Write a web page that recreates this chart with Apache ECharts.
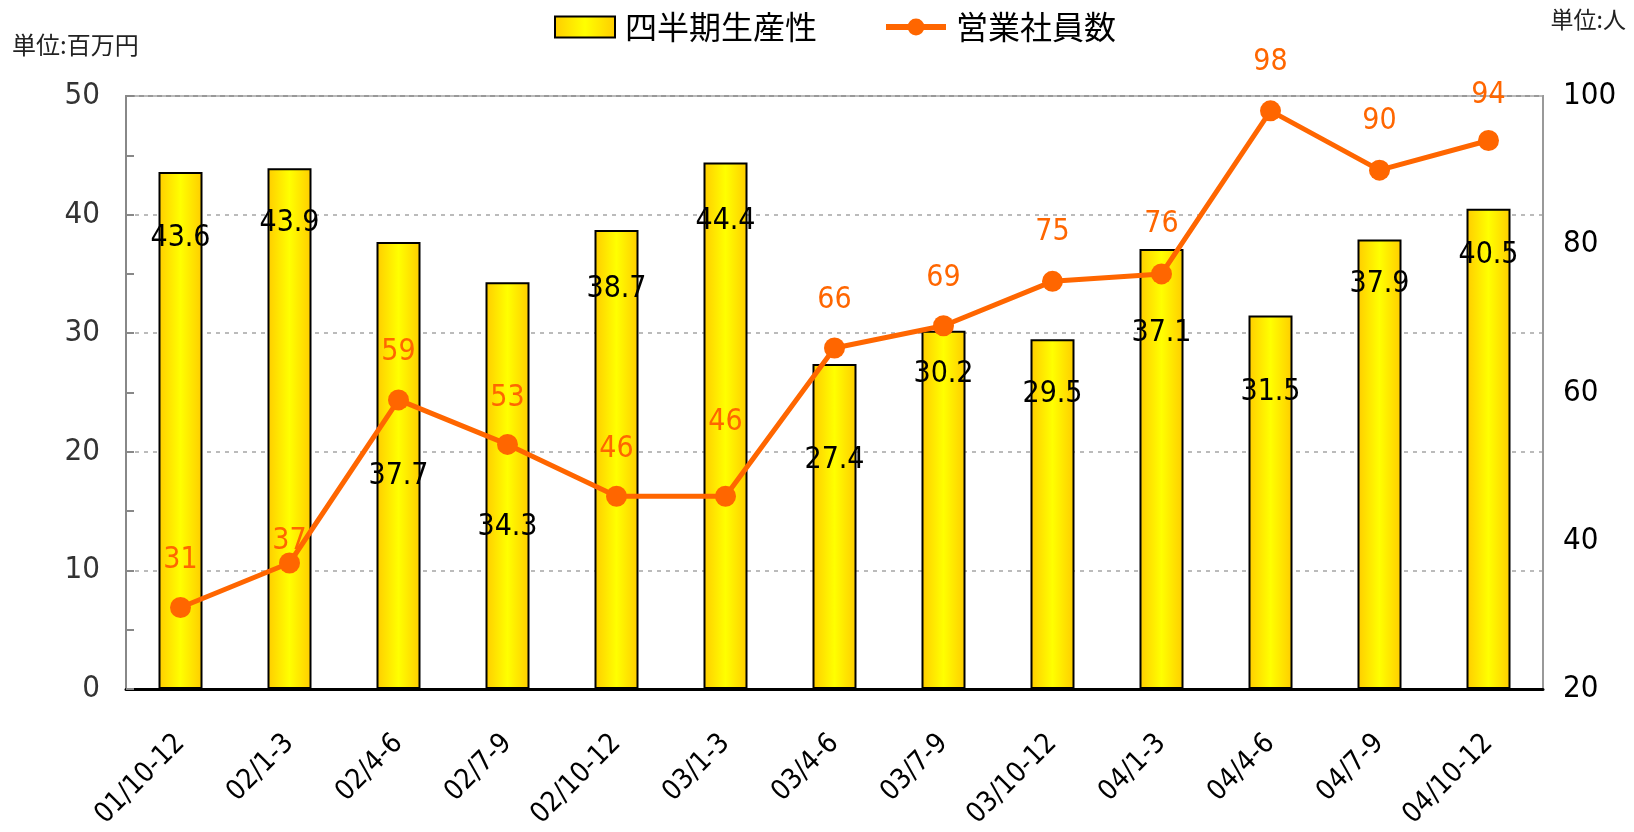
<!DOCTYPE html>
<html style="height: 100%">
<head>
    <meta charset="utf-8">
    <script src="https://cdn.jsdelivr.net/npm/echarts@6/dist/echarts.min.js"></script>
</head>
<body style="height: 100%; margin: 0; background: #fff">
    <div id="main" style="width:1634px;height:832px;"></div>
    <script type="text/javascript">
    // データ
    var quarters = ['01/10-12', '02/1-3', '02/4-6', '02/7-9', '02/10-12', '03/1-3', '03/4-6',
        '03/7-9', '03/10-12', '04/1-3', '04/4-6', '04/7-9', '04/10-12'];
    var productivity = [43.6, 43.9, 37.7, 34.3, 38.7, 44.4, 27.4, 30.2, 29.5, 37.1, 31.5, 37.9, 40.5];
    var salesStaff = [31, 37, 59, 53, 46, 46, 66, 69, 75, 76, 98, 90, 94];

    // ラベル位置（棒の上端からの距離 / 点からの距離, px）
    var barLabelDy = [66, 55, 234, 245, 59, 59, 96, 43, 55, 84, 77, 45, 47];
    var lineLabelDy = [49, 23, 49, 48, 49, 76, 49, 49, 51, 51, 50, 50, 47];

    var FONT = '"Liberation Sans Narrow", "DejaVu Sans Condensed", "Noto Sans CJK JP", sans-serif';
    var JP = '"Noto Sans CJK JP", sans-serif';
    var ORANGE = '#FF6600';

    var barFill = new echarts.graphic.LinearGradient(0, 0, 1, 0, [
        { offset: 0, color: '#FFCC00' },
        { offset: 0.5, color: '#FFFF00' },
        { offset: 1, color: '#FFCC00' }
    ]);

    var myChart = echarts.init(document.getElementById('main'));

    var option = {
        animation: false,
        textStyle: { fontFamily: FONT },
        legend: {
            top: 6,
            left: 549,
            itemGap: 66,
            itemWidth: 60,
            itemHeight: 21,
            textStyle: { fontSize: 32, color: '#000', fontFamily: JP, padding: [0, 0, 0, 5] },
            data: [
                { name: '四半期生産性', icon: 'rect', itemStyle: { borderColor: '#000', borderWidth: 2 } },
                { name: '営業社員数', lineStyle: { width: 6 } }
            ]
        },
        graphic: [{
            type: 'text', left: 12, top: 33,
            style: { text: '単位:百万円', fontSize: 24, fill: '#222', fontFamily: JP }
        }, {
            type: 'text', right: 8, top: 8,
            style: { text: '単位:人', fontSize: 23, fill: '#222', fontFamily: JP }
        }],
        grid: {
            left: 126, right: 91, top: 96, bottom: 143,
            show: true, borderColor: '#999', borderWidth: 2
        },
        xAxis: {
            type: 'category',
            data: quarters,
            axisLine: { lineStyle: { color: '#000', width: 3 } },
            axisTick: { inside: true, length: 10, lineStyle: { color: '#000', width: 2 } },
            axisLabel: { rotate: 45, margin: 50, fontSize: 28, color: '#000', fontFamily: FONT }
        },
        yAxis: [{
            type: 'value', min: 0, max: 50, interval: 10,
            axisLine: { show: true, lineStyle: { color: '#888', width: 2 } },
            axisTick: { show: true, inside: true, length: 8, lineStyle: { color: '#888', width: 2 } },
            minorTick: { show: true, splitNumber: 2, length: 8, lineStyle: { color: '#888', width: 2 } },
            splitLine: { lineStyle: { color: '#bbb', width: 2, type: [4, 5] } },
            axisLabel: { margin: 26, fontSize: 31, color: '#333', fontFamily: FONT }
        }, {
            type: 'value', min: 20, max: 100, interval: 20,
            axisLine: { show: true, lineStyle: { color: '#999', width: 2 } },
            axisTick: { show: false },
            splitLine: { show: false },
            axisLabel: { margin: 20, fontSize: 31, color: '#000', fontFamily: FONT }
        }],
        series: [{
            name: '四半期生産性',
            type: 'bar',
            barWidth: 44,
            itemStyle: { color: barFill, borderColor: '#000', borderWidth: 2 },
            data: productivity.map(function(v, i) {
                return {
                    value: v,
                    label: { position: ['50%', barLabelDy[i]] }
                };
            }),
            label: {
                show: true,
                align: 'center',
                verticalAlign: 'middle',
                fontSize: 30,
                color: '#000',
                fontFamily: FONT
            },
            z: 2
        }, {
            name: '営業社員数',
            type: 'line',
            yAxisIndex: 1,
            symbol: 'circle',
            symbolSize: 21,
            lineStyle: { color: ORANGE, width: 5 },
            itemStyle: { color: ORANGE },
            data: salesStaff.map(function(v, i) {
                return {
                    value: v,
                    label: { offset: [0, -(lineLabelDy[i] - 27)] }
                };
            }),
            label: {
                show: true,
                position: 'top',
                distance: 0,
                fontSize: 30,
                color: ORANGE,
                fontFamily: FONT
            },
            z: 5
        }]
    };

    myChart.setOption(option, true);
    </script>
</body>
</html>
